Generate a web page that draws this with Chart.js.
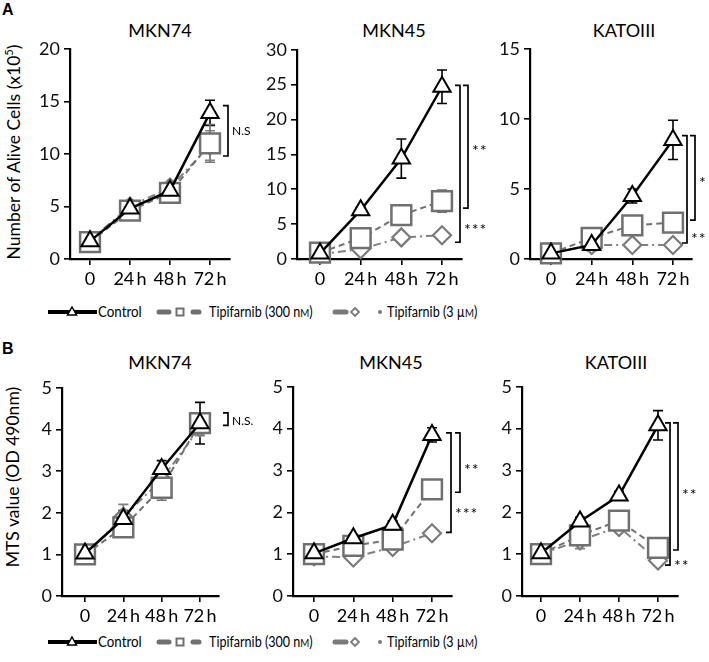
<!DOCTYPE html>
<html lang="en">
<head>
<meta charset="UTF-8">
<title>Tipifarnib growth curves</title>
<script src="https://cdn.jsdelivr.net/npm/chart.js"></script>
<style>
  body { margin: 0; background: #fff; font-family: Lato, sans-serif; color: #000; }
  #page { position: relative; width: 709px; height: 662px; overflow: hidden; }
  .panel { position: absolute; }
  .title { position: absolute; font-size: 18px; transform: translate(-50%, -50%); white-space: nowrap; }
  .ylab { position: absolute; font-size: 17.5px; white-space: nowrap; transform: translate(-50%, -50%) rotate(-90deg); }
  .letter { position: absolute; font: bold 16px Arial, 'Liberation Sans', sans-serif; }
  .legend { position: absolute; left: 0; width: 709px; height: 20px; }
  .legend svg { position: absolute; left: 0; top: 0; }
  .legend .item { position: absolute; top: 0px; font-size: 15.5px; line-height: 18px; white-space: nowrap;
                  transform: scaleX(0.86); transform-origin: left center; }
  .legend .narrow { transform: scaleX(0.81); }
  .sc { font-size: 12px; }
</style>
</head>
<body>
<div id="page">
  <div class="letter" style="left:2px; top:1px;">A</div>
  <div class="letter" style="left:2px; top:340px;">B</div>

  <div class="title" style="left:160px; top:30px;">MKN74</div>
  <div class="title" style="left:394px; top:30px;">MKN45</div>
  <div class="title" style="left:624px; top:30px;">KATOIII</div>
  <div class="title" style="left:160px; top:362px;">MKN74</div>
  <div class="title" style="left:391px; top:362px;">MKN45</div>
  <div class="title" style="left:616px; top:362px;">KATOIII</div>

  <div class="ylab" style="left:13px; top:152px;">Number of Alive Cells (x10<sup style="font-size:11px">5</sup>)</div>
  <div class="ylab" style="left:12px; top:477px;">MTS value (OD 490nm)</div>

  <div class="legend" id="legendA" style="top:302px;"></div>
  <div class="legend" id="legendB" style="top:632px;"></div>
</div>

<script>
  const timeValues = [0, 24, 48, 72];
  const timeLabels = ['0', '24\u2009h', '48\u2009h', '72\u2009h'];
  const seriesNames = ['Control', 'Tipifarnib (300 nM)', 'Tipifarnib (3 µM)'];

  // A: number of alive cells (x10^5)
  const cellsMkn74Control = [1.7, 4.8, 6.5, 13.9];
  const cellsMkn74ControlErr = [0.2, 0.3, 0.3, 1.2];
  const cellsMkn74Low = [1.6, 4.6, 6.3, 11.0];
  const cellsMkn74LowErr = [0.2, 0.3, 0.3, 1.8];
  const cellsMkn74High = [1.8, 5.0, 6.8, 10.8];
  const cellsMkn74HighErr = [0.2, 0.3, 0.4, 1.4];

  const cellsMkn45Control = [0.8, 7.0, 14.4, 24.7];
  const cellsMkn45ControlErr = [0.1, 0.4, 2.8, 2.4];
  const cellsMkn45Low = [0.9, 3.0, 6.3, 8.3];
  const cellsMkn45LowErr = [0.1, 0.4, 0.5, 1.6];
  const cellsMkn45High = [0.7, 1.4, 3.1, 3.4];
  const cellsMkn45HighErr = [0.1, 0.3, 0.5, 0.3];

  const cellsKatoControl = [0.4, 1.0, 4.5, 8.5];
  const cellsKatoControlErr = [0.05, 0.4, 0.5, 1.4];
  const cellsKatoLow = [0.4, 1.5, 2.4, 2.6];
  const cellsKatoLowErr = [0.05, 0.2, 0.2, 0.2];
  const cellsKatoHigh = [0.4, 1.0, 1.0, 1.0];
  const cellsKatoHighErr = [0.05, 0.3, 0.1, 0.1];

  // B: MTS value (OD 490nm)
  const mtsMkn74Control = [1.02, 1.85, 3.05, 4.15];
  const mtsMkn74ControlErr = [0.05, 0.2, 0.2, 0.5];
  const mtsMkn74Low = [1.0, 1.65, 2.6, 4.15];
  const mtsMkn74LowErr = [0.05, 0.15, 0.3, 0.25];
  const mtsMkn74High = [1.0, 1.9, 2.8, 4.05];
  const mtsMkn74HighErr = [0.05, 0.3, 0.2, 0.2];

  const mtsMkn45Control = [1.02, 1.38, 1.7, 3.85];
  const mtsMkn45ControlErr = [0.05, 0.08, 0.1, 0.17];
  const mtsMkn45Low = [1.0, 1.2, 1.35, 2.55];
  const mtsMkn45LowErr = [0.05, 0.1, 0.12, 0.2];
  const mtsMkn45High = [0.95, 0.92, 1.17, 1.5];
  const mtsMkn45HighErr = [0.05, 0.1, 0.08, 0.05];

  const mtsKatoControl = [1.02, 1.78, 2.4, 4.08];
  const mtsKatoControlErr = [0.05, 0.1, 0.1, 0.35];
  const mtsKatoLow = [1.0, 1.45, 1.8, 1.15];
  const mtsKatoLowErr = [0.05, 0.15, 0.15, 0.15];
  const mtsKatoHigh = [1.0, 1.33, 1.65, 0.85];
  const mtsKatoHighErr = [0.05, 0.2, 0.1, 0.12];

  // significance brackets (values on the y scale)
  const bracketsA1 = [{ top: 14.6, bottom: 9.8, dx: -2, label: 'N.S', at: 12.2 }];
  const bracketsA2 = [
    { top: 24.9, bottom: 2.4, dx: -2, label: '***', at: 4.7 },
    { top: 24.9, bottom: 7.3, dx: 6, label: '**', at: 16.1 }
  ];
  const bracketsA3 = [
    { top: 8.8, bottom: 1.14, dx: -5, label: '**', at: 1.7 },
    { top: 8.8, bottom: 2.77, dx: 3, label: '*', at: 5.75 }
  ];
  const bracketsB1 = [{ top: 4.4, bottom: 4.1, dx: 9, label: 'N.S.', at: 4.2 }];
  const bracketsB2 = [
    { top: 3.9, bottom: 1.52, dx: -1, label: '***', at: 2.05 },
    { top: 3.9, bottom: 2.48, dx: 8, label: '**', at: 3.12 }
  ];
  const bracketsB3 = [
    { top: 4.14, bottom: 0.74, dx: -8, label: '**', at: 0.81 },
    { top: 4.14, bottom: 1.1, dx: 0, label: '**', at: 2.52 }
  ];

  const YW = 50, PT = 14, PR = 40, XH = 40;

  const errorBars = {
    id: 'errorBars',
    beforeDatasetsDraw(chart) {
      const ctx = chart.ctx;
      const y = chart.scales.y;
      ctx.save();
      chart.data.datasets.forEach((ds, i) => {
        const meta = chart.getDatasetMeta(i);
        ctx.strokeStyle = ds.borderColor;
        ctx.lineWidth = 1.6;
        ctx.setLineDash([]);
        meta.data.forEach((pt, j) => {
          const v = ds.data[j].y, e = ds.errs[j];
          if (!e) return;
          const y1 = y.getPixelForValue(v + e), y2 = y.getPixelForValue(v - e);
          ctx.beginPath();
          ctx.moveTo(pt.x, y1); ctx.lineTo(pt.x, y2);
          ctx.moveTo(pt.x - 5, y1); ctx.lineTo(pt.x + 5, y1);
          ctx.moveTo(pt.x - 5, y2); ctx.lineTo(pt.x + 5, y2);
          ctx.stroke();
        });
      });
      ctx.restore();
    }
  };

  function bracketPlugin(list) {
    return {
      id: 'brackets',
      afterDraw(chart) {
        const ctx = chart.ctx;
        const y = chart.scales.y;
        const right = chart.chartArea.right;
        ctx.save();
        ctx.strokeStyle = '#000';
        ctx.fillStyle = '#000';
        ctx.lineWidth = 1.7;
        list.forEach(b => {
          const x = right + b.dx;
          const y1 = y.getPixelForValue(b.top), y2 = y.getPixelForValue(b.bottom);
          ctx.beginPath();
          ctx.moveTo(x - 5, y1); ctx.lineTo(x, y1); ctx.lineTo(x, y2); ctx.lineTo(x - 5, y2);
          ctx.stroke();
          const stars = b.label.indexOf('*') >= 0;
          ctx.font = stars ? '16px Lato' : '12px Lato';
          ctx.textBaseline = 'middle';
          ctx.textAlign = 'left';
          if ('letterSpacing' in ctx) ctx.letterSpacing = stars ? '1px' : '0px';
          ctx.fillText(b.label, x + 4, y.getPixelForValue(b.at) + (stars ? 4 : 0));
        });
        ctx.restore();
      }
    };
  }

  function series(values, errs, kind) {
    const styles = {
      control: { borderColor: '#000', borderWidth: 2.5, pointStyle: 'triangle', pointRadius: 10,
                 pointBorderWidth: 2, pointBorderColor: '#000', borderDash: [] },
      low: { borderColor: '#707070', borderWidth: 2, pointStyle: 'rect', pointRadius: 14,
             pointBorderWidth: 2.5, pointBorderColor: '#707070', borderDash: [6, 4] },
      high: { borderColor: '#808080', borderWidth: 2, pointStyle: 'rectRot', pointRadius: 9,
              pointBorderWidth: 2.2, pointBorderColor: '#7a7a7a', borderDash: [8, 4, 2, 4] }
    };
    return Object.assign({
      data: values.map((v, i) => ({ x: timeValues[i], y: v })),
      errs: errs,
      pointBackgroundColor: '#fff',
      pointHoverRadius: 0,
      fill: false,
      tension: 0,
      clip: false
    }, styles[kind]);
  }

  function makePanel(box, yMax, yStep, datasets, brackets) {
    const div = document.createElement('div');
    div.className = 'panel';
    const w = (box.R - box.L) + YW + PR;
    const h = (box.B - box.T) + PT + XH;
    div.style.left = (box.L - YW) + 'px';
    div.style.top = (box.T - PT) + 'px';
    div.style.width = w + 'px';
    div.style.height = h + 'px';
    const canvas = document.createElement('canvas');
    canvas.width = w; canvas.height = h;
    div.appendChild(canvas);
    document.getElementById('page').appendChild(div);

    const pxPerHour = (box.x72 - box.x0) / 72;
    const axisStyle = {
      grid: { drawOnChartArea: false, drawTicks: true, tickLength: 6, color: '#000', lineWidth: 1.6 },
      border: { color: '#000', width: 2.2 }
    };
    new Chart(canvas, {
      type: 'line',
      data: { datasets: datasets },
      options: {
        responsive: false,
        animation: false,
        devicePixelRatio: 1,
        layout: { autoPadding: false, padding: { top: PT, right: PR, left: 0, bottom: 0 } },
        plugins: { legend: { display: false }, tooltip: { enabled: false } },
        scales: {
          x: Object.assign({
            type: 'linear',
            min: -(box.x0 - box.L) / pxPerHour,
            max: 72 + (box.R - box.x72) / pxPerHour,
            afterFit: s => { s.height = XH; },
            afterBuildTicks: s => { s.ticks = timeValues.map(v => ({ value: v })); },
            ticks: {
              autoSkip: false, maxRotation: 0, color: '#000', padding: 3,
              font: { family: 'Lato', size: 18 },
              callback: v => timeLabels[timeValues.indexOf(v)]
            }
          }, axisStyle),
          y: Object.assign({
            min: 0, max: yMax,
            afterFit: s => { s.width = YW; },
            ticks: { stepSize: yStep, color: '#111', padding: 4, font: { family: 'Lato', size: 18 } }
          }, axisStyle)
        }
      },
      plugins: [errorBars, bracketPlugin(brackets)]
    });
  }

  makePanel({ L: 70, R: 230, T: 48, B: 259, x0: 90, x72: 210 }, 20, 5, [
    series(cellsMkn74Control, cellsMkn74ControlErr, 'control'),
    series(cellsMkn74Low, cellsMkn74LowErr, 'low'),
    series(cellsMkn74High, cellsMkn74HighErr, 'high')
  ], bracketsA1);
  makePanel({ L: 297, R: 462, T: 49, B: 259, x0: 320, x72: 442 }, 30, 5, [
    series(cellsMkn45Control, cellsMkn45ControlErr, 'control'),
    series(cellsMkn45Low, cellsMkn45LowErr, 'low'),
    series(cellsMkn45High, cellsMkn45HighErr, 'high')
  ], bracketsA2);
  makePanel({ L: 530, R: 692, T: 48, B: 259, x0: 551, x72: 673 }, 15, 5, [
    series(cellsKatoControl, cellsKatoControlErr, 'control'),
    series(cellsKatoLow, cellsKatoLowErr, 'low'),
    series(cellsKatoHigh, cellsKatoHighErr, 'high')
  ], bracketsA3);
  makePanel({ L: 62, R: 219, T: 387, B: 596, x0: 85, x72: 200 }, 5, 1, [
    series(mtsMkn74Control, mtsMkn74ControlErr, 'control'),
    series(mtsMkn74Low, mtsMkn74LowErr, 'low'),
    series(mtsMkn74High, mtsMkn74HighErr, 'high')
  ], bracketsB1);
  makePanel({ L: 293, R: 452, T: 386, B: 596, x0: 314, x72: 432 }, 5, 1, [
    series(mtsMkn45Control, mtsMkn45ControlErr, 'control'),
    series(mtsMkn45Low, mtsMkn45LowErr, 'low'),
    series(mtsMkn45High, mtsMkn45HighErr, 'high')
  ], bracketsB2);
  makePanel({ L: 522, R: 678, T: 386, B: 596, x0: 541, x72: 658 }, 5, 1, [
    series(mtsKatoControl, mtsKatoControlErr, 'control'),
    series(mtsKatoLow, mtsKatoLowErr, 'low'),
    series(mtsKatoHigh, mtsKatoHighErr, 'high')
  ], bracketsB3);

  // legend rows
  function legendRow(id) {
    const el = document.getElementById(id);
    el.innerHTML =
      '<svg width="709" height="20">' +
      '<line x1="48" y1="10" x2="97" y2="10" stroke="#000" stroke-width="4"/>' +
      '<polygon points="72,5 76.5,13 67.5,13" fill="#fff" stroke="#000" stroke-width="1.5"/>' +
      '<line x1="159" y1="10" x2="169" y2="10" stroke="#707070" stroke-width="5" stroke-linecap="round"/>' +
      '<rect x="176.5" y="6.5" width="7" height="7" fill="#fff" stroke="#707070" stroke-width="2"/>' +
      '<line x1="193" y1="10" x2="199" y2="10" stroke="#707070" stroke-width="5" stroke-linecap="round"/>' +
      '<line x1="335" y1="10" x2="346" y2="10" stroke="#7a7a7a" stroke-width="5" stroke-linecap="round"/>' +
      '<polygon points="355,6 359,10 355,14 351,10" fill="#fff" stroke="#7a7a7a" stroke-width="1.8"/>' +
      '<circle cx="380" cy="10" r="2" fill="#7a7a7a"/>' +
      '</svg>' +
      '<span class="item" style="left:98px;">' + seriesNames[0] + '</span>' +
      '<span class="item narrow" style="left:209px;">Tipifarnib (300 n<span class="sc">M</span>)</span>' +
      '<span class="item narrow" style="left:387px;">Tipifarnib (3 µ<span class="sc">M</span>)</span>';
  }
  legendRow('legendA');
  legendRow('legendB');
</script>
</body>
</html>
